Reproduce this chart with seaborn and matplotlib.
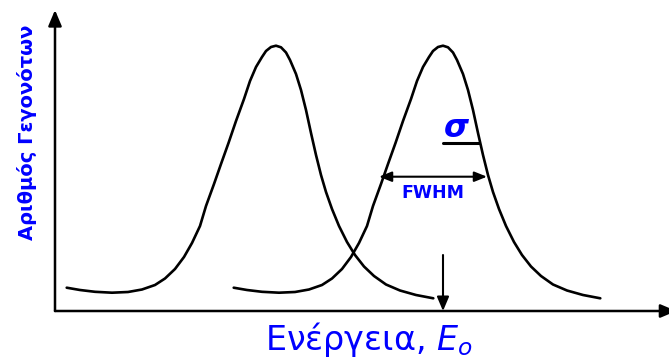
import matplotlib
matplotlib.use("Agg")
import matplotlib.pyplot as plt
import pandas as pd
import seaborn as sns

# Common line shape of a detector peak: channel offset from the centroid and counts
profile_offset = [-209.3, -196, -181, -164, -148, -134, -121, -111, -101, -92,
                  -84, -76, -70, -62, -55, -47.5, -40, -32, -26, -20, -14, -10,
                  -5, 0, 5, 10, 14, 20, 25, 30, 35, 40, 45, 50, 56, 63, 71, 79,
                  88, 98, 110, 124, 140, 157.3]
profile_counts = [23.3, 21, 19.2, 18.3, 19, 21.5, 26, 32.5, 42, 54,
                  68, 85, 105, 127, 147, 168, 190, 212, 230, 244, 254, 260,
                  264, 265.3, 263.7, 258.5, 251, 237, 221, 201, 178, 156, 136, 119,
                  102, 85, 69, 56, 44.5, 35, 26.5, 20.5, 16, 12.7]

# Centroid channels of the two peaks
peak_centres = [221, 388]
peak_names = ["A", "B"]

# Resolution annotations for the second peak
e0 = 388
e0_arrow_top = 56
fwhm_level = 134.3
fwhm_left, fwhm_right = 324, 432
sigma_level = 167.7
sigma_right = 424

rows = []
for name, centre in zip(peak_names, peak_centres):
    for dx, c in zip(profile_offset, profile_counts):
        rows.append({"peak": name, "channel": centre + dx, "counts": c})
df = pd.DataFrame(rows)

sns.set_style("white")
plt.rcParams["font.family"] = ["DejaVu Sans"]
plt.rcParams["mathtext.fontset"] = "dejavusans"

fig = plt.figure(figsize=(6.69, 3.63), dpi=100)
ax = fig.add_axes([55 / 669, 52 / 363, 614 / 669, 301 / 363])

sns.lineplot(data=df, x="channel", y="counts", units="peak", estimator=None,
             sort=False, color="black", linewidth=1.9, ax=ax)

ax.set_xlim(0, 614)
ax.set_ylim(0, 301)
ax.set_xticks([])
ax.set_yticks([])
for s in ax.spines.values():
    s.set_visible(False)

# Axes drawn as arrows
axis_kw = dict(arrowstyle="-|>,head_length=0.95,head_width=0.4", color="black",
               lw=1.8, shrinkA=0, shrinkB=0, mutation_scale=10)
ax.annotate("", xy=(0, 1), xytext=(0, 0), xycoords="axes fraction",
            textcoords="axes fraction", arrowprops=axis_kw, annotation_clip=False)
ax.annotate("", xy=(1.012, 0), xytext=(0, 0), xycoords="axes fraction",
            textcoords="axes fraction", arrowprops=axis_kw, annotation_clip=False)

# Centroid marker E0
ax.annotate("", xy=(e0, 0), xytext=(e0, e0_arrow_top),
            arrowprops=dict(arrowstyle="-|>,head_length=0.85,head_width=0.36",
                            color="black", lw=1.5, shrinkA=0, shrinkB=0,
                            mutation_scale=10))

# FWHM double arrow
ax.annotate("", xy=(fwhm_right, fwhm_level), xytext=(fwhm_left, fwhm_level),
            arrowprops=dict(arrowstyle="<|-|>,head_length=0.75,head_width=0.3",
                            color="black", lw=1.5, shrinkA=0, shrinkB=0,
                            mutation_scale=10))
ax.text((fwhm_left + fwhm_right) / 2, fwhm_level - 15.8, "FWHM", color="blue",
        fontsize=12.5, fontweight="bold", ha="center", va="center")

# sigma marker
ax.plot([e0, sigma_right], [sigma_level, sigma_level], color="black", lw=2.2)
ax.text(e0 + 13, sigma_level + 15, "σ", color="blue", fontsize=23,
        fontstyle="italic", fontweight="bold", ha="center", va="center")

ax.set_xlabel(r"Ενέργεια, $E_o$", color="blue", fontsize=24)
ax.xaxis.label.set_ha("left")
ax.xaxis.set_label_coords(0.342, -0.03)
ax.set_ylabel("Αριθμός Γεγονότων", color="blue", fontsize=14, fontweight="bold")
ax.yaxis.set_label_coords(-0.03, 0.595)

fig.savefig("out.png", dpi=100)
